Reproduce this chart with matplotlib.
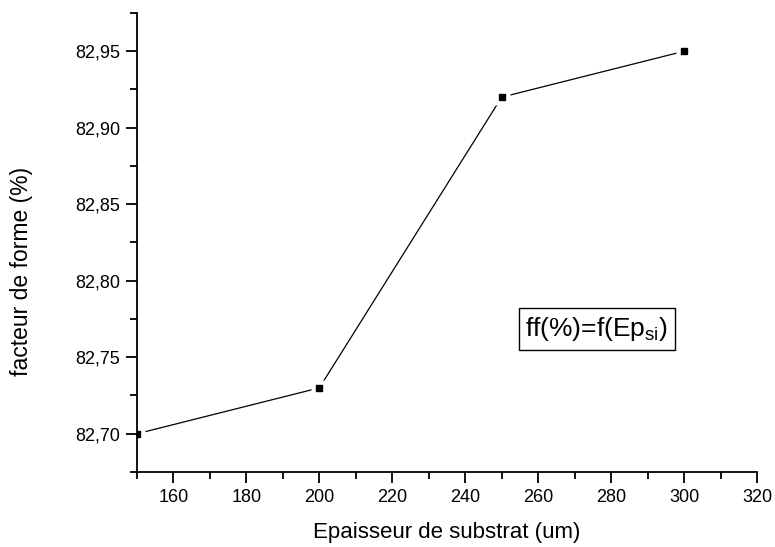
import matplotlib
matplotlib.use("Agg")
import matplotlib.pyplot as plt
from matplotlib.ticker import MultipleLocator, FuncFormatter

plt.rcParams['font.family'] = ['Liberation Sans', 'DejaVu Sans']

# Substrate thickness (um) and fill factor (%)
thickness = [150, 200, 250, 300]
fill_factor = [82.70, 82.73, 82.92, 82.95]

x_label = "Epaisseur de substrat (um)"
y_label = "facteur de forme (%)"
legend_text = r"ff(%)=f(Ep$_{\mathregular{si}}$)"

fig = plt.figure(figsize=(7.75, 5.47), dpi=100)
ax = fig.add_axes([137 / 775, 1 - 472 / 547, (757 - 137) / 775, (472 - 13) / 547])

# connecting line, with a white halo around each marker leaving small gaps
ax.plot(thickness, fill_factor, color='black', lw=0.9, zorder=1.5)
ax.plot(thickness, fill_factor, ls='none', marker='s', ms=11.5, mfc='white',
        mec='none', zorder=1.8)
ax.plot(thickness, fill_factor, ls='none', marker='s', ms=5, mfc='black',
        mec='black', zorder=3)

ax.set_xlim(150, 320)
ax.set_ylim(82.675, 82.975)

ax.xaxis.set_major_locator(MultipleLocator(20))
ax.xaxis.set_minor_locator(MultipleLocator(10))
ax.yaxis.set_major_locator(MultipleLocator(0.05))
ax.yaxis.set_minor_locator(MultipleLocator(0.025))
ax.yaxis.set_major_formatter(FuncFormatter(lambda v, p: f"{v:.2f}".replace('.', ',')))

for s in ['top', 'right']:
    ax.spines[s].set_visible(False)
for s in ['left', 'bottom']:
    ax.spines[s].set_linewidth(1.3)
    ax.spines[s].set_zorder(2.5)

ax.tick_params(which='major', direction='out', length=8, width=1.3, labelsize=13, pad=4)
ax.tick_params(which='minor', direction='out', length=5, width=1.3)

ax.set_xlabel(x_label, fontsize=16, labelpad=12)
ax.set_ylabel(y_label, fontsize=16.5)
ax.yaxis.set_label_coords(-0.168, 0.436)

ax.text(597 / 775, 1 - 329 / 547, legend_text, transform=fig.transFigure,
        ha='center', va='center', fontsize=19,
        bbox=dict(boxstyle='square,pad=0.25', fc='white', ec='black', lw=1.0))

fig.savefig("out.png", dpi=100)
